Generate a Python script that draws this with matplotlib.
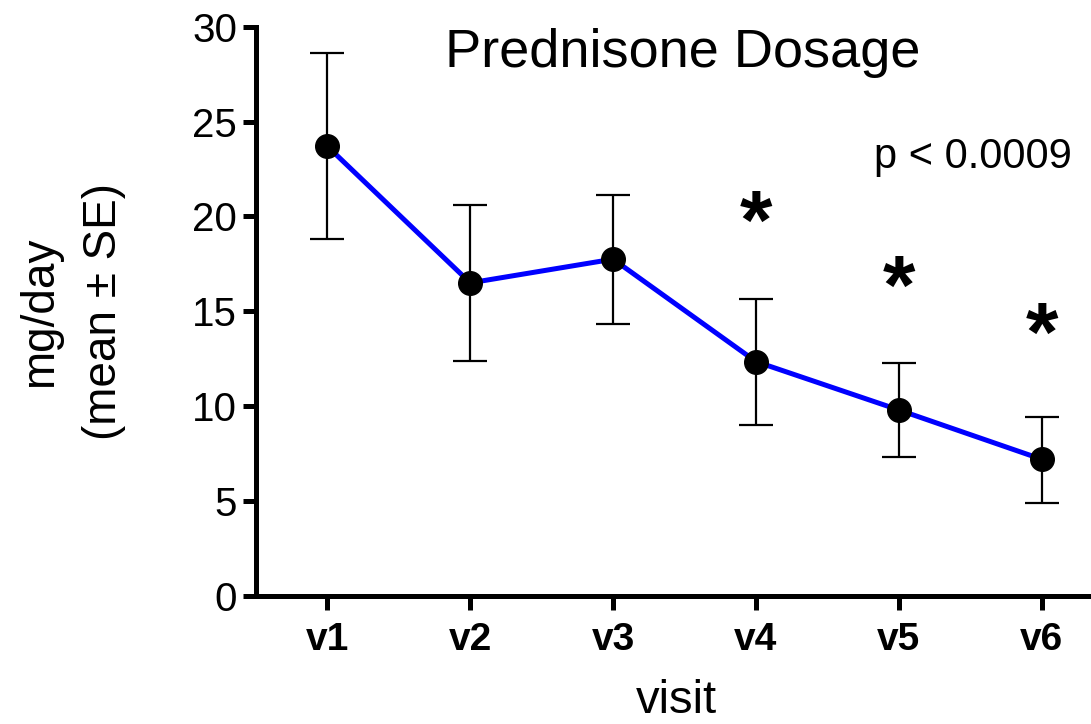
import matplotlib.pyplot as plt
import numpy as np

plt.rcParams['font.family'] = ['Liberation Sans', 'DejaVu Sans']

visits = ['v1', 'v2', 'v3', 'v4', 'v5', 'v6']
dose_mean = [23.7, 16.5, 17.75, 12.35, 9.8, 7.2]
err_upper = [28.6, 20.6, 21.15, 15.65, 12.3, 9.45]
err_lower = [18.8, 12.4, 14.35, 9.0, 7.3, 4.9]
signif = [False, False, False, True, True, True]
star_y = [None, None, None, 19.45, 16.05, 13.55]

x = np.arange(1, len(visits) + 1)
mean = np.array(dose_mean)
yerr = [mean - np.array(err_lower), np.array(err_upper) - mean]

fig = plt.figure(figsize=(10.91, 7.24), dpi=100)
ax = fig.add_axes([0.2346, 0.177, 0.77, 0.786])

ax.errorbar(x, mean, yerr=yerr, fmt='none', ecolor='black',
            elinewidth=1.6, capsize=12, capthick=1.6, zorder=2)
ax.plot(x, mean, color='#0000ff', lw=3.6, zorder=3)
ax.plot(x, mean, 'o', color='black', markersize=17, zorder=4)

# significance stars
for xi, s, sy in zip(x, signif, star_y):
    if s:
        ax.text(xi, sy, '*', ha='center', va='center', fontsize=60,
                fontweight='bold')

ax.set_xlim(0.5, 6.38)
ax.set_ylim(0, 30)
ax.set_yticks([0, 5, 10, 15, 20, 25, 30])
ax.set_xticks(x)
ax.set_xticklabels(visits, fontweight='bold')

for side in ['top', 'right']:
    ax.spines[side].set_visible(False)
for side in ['left', 'bottom']:
    ax.spines[side].set_linewidth(3.6)
ax.tick_params(axis='y', length=9.5, width=3.6, labelsize=29, pad=4)
ax.tick_params(axis='x', length=10, width=3.6, labelsize=28, pad=9)

fig.text(0.626, 1 - 67 / 724, 'Prednisone Dosage', ha='center',
         va='baseline', fontsize=39)
fig.text(1072 / 1091, 1 - 168 / 724, 'p < 0.0009', ha='right',
         va='baseline', fontsize=30)
ax.set_ylabel('mg/day\n(mean ± SE)', fontsize=33, labelpad=48,
              linespacing=1.58)
ax.set_xlabel('visit', fontsize=34, labelpad=15)

fig.savefig('out.png', dpi=100)
